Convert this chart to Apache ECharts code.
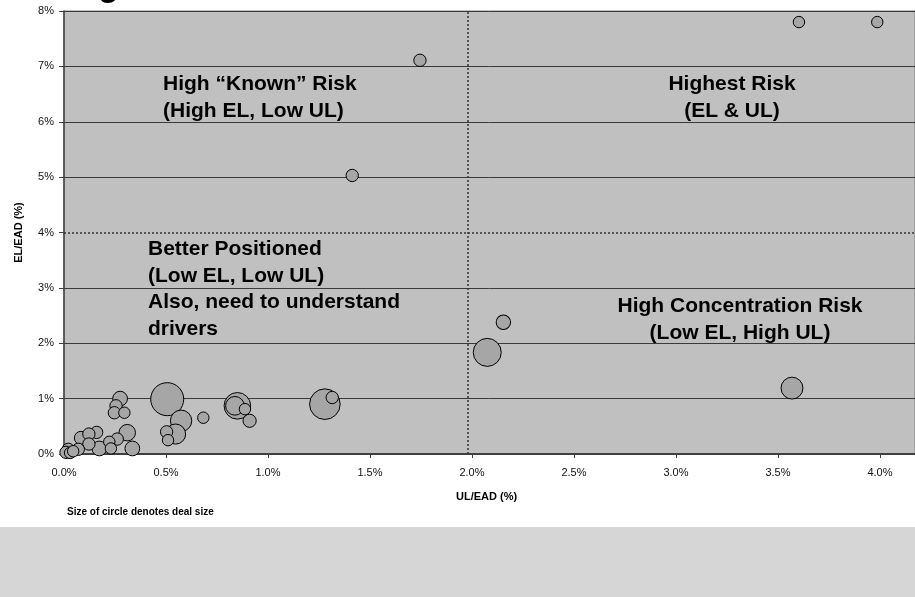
<!DOCTYPE html>
<html>
<head>
<meta charset="utf-8">
<script src="https://cdn.jsdelivr.net/npm/echarts@6/dist/echarts.min.js"></script>
<style>
  html, body { margin: 0; padding: 0; background: #ffffff; }
  #chart { width: 915px; height: 597px; }
</style>
</head>
<body>
<div id="chart"></div>
<script>
// Deal-level risk: UL/EAD (%) against EL/EAD (%), bubble area = deal size
const ulEad = [0.275, 0.255, 0.247, 0.296, 0.506, 0.574, 0.683, 0.547, 0.503, 0.51,
               0.85, 0.838, 0.887, 0.91, 0.31, 0.261, 0.222, 0.23, 0.335, 0.16,
               0.122, 0.122, 0.083, 0.173, 0.07, 0.021, 0.01, 0.03, 0.045,
               1.279, 1.315, 1.413, 1.745, 2.154, 2.075, 3.569, 3.603, 3.987];
const elEad = [1.00, 0.87, 0.745, 0.745, 0.99, 0.60, 0.655, 0.36, 0.40, 0.25,
               0.87, 0.87, 0.81, 0.60, 0.385, 0.27, 0.22, 0.10, 0.10, 0.39,
               0.36, 0.18, 0.29, 0.10, 0.085, 0.085, 0.03, 0.02, 0.05,
               0.90, 1.02, 5.03, 7.11, 2.38, 1.835, 1.19, 7.80, 7.80];
const dealSize = [20, 14, 14, 12, 100, 42, 12, 37, 14, 12,
                  65, 32, 12, 16, 25, 14, 12, 12, 20, 14,
                  14, 14, 16, 20, 14, 14, 14, 12, 12,
                  86, 14, 14, 14, 19, 72, 44, 12, 12];

const xTicks = [0, 0.5, 1.0, 1.5, 2.0, 2.5, 3.0, 3.5, 4.0];
const yTicks = [0, 1, 2, 3, 4, 5, 6, 7, 8];

// Quadrant thresholds
const ulThreshold = 1.98;
const elThreshold = 4;

// Larger deals drawn first so smaller ones stay visible on top
const bubbles = ulEad.map((x, i) => [x, elEad[i], dealSize[i]])
  .sort((a, b) => b[2] - a[2]);

const font = 'Arial, "Liberation Sans", sans-serif';
const gridLine = '#3a3a3a';
// the 4% split line is replaced by a dotted threshold line
const splitColors = yTicks.map(v => v === elThreshold ? 'rgba(0,0,0,0)' : gridLine);

const chart = echarts.init(document.getElementById('chart'), null, { renderer: 'canvas' });

const quadText = (x, y, lines, align) => ({
  type: 'text',
  left: align === 'center' ? undefined : x,
  x: align === 'center' ? x : undefined,
  y: y,
  silent: true,
  z: 10,
  style: {
    text: lines.join('\n'),
    font: 'bold 21px ' + font,
    fill: '#000',
    textAlign: align,
    textVerticalAlign: 'top',
    lineHeight: 26.5
  }
});

chart.setOption({
  animation: false,
  backgroundColor: '#ffffff',
  grid: {
    left: 64, top: 11, right: 0, bottom: 143,
    show: true,
    backgroundColor: '#c0c0c0',
    borderColor: '#808080',
    borderWidth: 1
  },
  xAxis: {
    type: 'value',
    // the plot runs on past the 4.0% tick to the right edge
    min: 0, max: 4.172, interval: 0.5,
    axisLine: { show: true, onZero: false, lineStyle: { color: '#404040', width: 2 } },
    axisTick: { show: true, length: 4, lineStyle: { color: '#404040' } },
    splitLine: { show: false },
    axisLabel: {
      margin: 13,
      color: '#111',
      fontFamily: font,
      fontSize: 11,
      showMaxLabel: false,
      formatter: v => xTicks.includes(v) ? v.toFixed(1) + '%' : ''
    }
  },
  yAxis: {
    type: 'value',
    min: 0, max: 8, interval: 1,
    name: 'EL/EAD (%)',
    nameLocation: 'middle',
    nameGap: 40,
    nameTextStyle: { fontFamily: font, fontSize: 11, fontWeight: 'bold', color: '#000' },
    axisLine: { show: true, onZero: false, lineStyle: { color: '#404040', width: 1.5 } },
    axisTick: { show: true, length: 5, lineStyle: { color: '#404040' } },
    splitLine: { show: true, lineStyle: { color: splitColors, width: 1 } },
    axisLabel: {
      margin: 10,
      color: '#111',
      fontFamily: font,
      fontSize: 11,
      formatter: v => yTicks.includes(v) ? v + '%' : ''
    }
  },
  series: [{
    type: 'scatter',
    data: bubbles,
    symbol: 'circle',
    symbolSize: d => 3.3 * Math.sqrt(d[2]),
    itemStyle: { color: '#a6a6a6', borderColor: '#000', borderWidth: 1, opacity: 1 },
    emphasis: { disabled: true },
    silent: true,
    z: 3,
    markLine: {
      silent: true,
      symbol: 'none',
      label: { show: false },
      lineStyle: { color: '#333', type: [2, 2], width: 1.5 },
      data: [{ yAxis: elThreshold }, { xAxis: ulThreshold }]
    }
  }],
  graphic: [
    { type: 'rect', shape: { x: 0, y: 527, width: 915, height: 70 },
      style: { fill: '#d6d6d6' }, silent: true },
    // tail of the page heading, running off the top edge
    { type: 'text', x: 98, y: -30, silent: true,
      style: { text: 'g', font: 'bold 34px ' + font, fill: '#000', textVerticalAlign: 'top' } },
    quadText(163, 71, ['High \u201cKnown\u201d Risk', '(High EL, Low UL)'], 'left'),
    quadText(732, 71, ['Highest Risk', '(EL & UL)'], 'center'),
    quadText(148, 236, ['Better Positioned', '(Low EL, Low UL)', 'Also, need to understand', 'drivers'], 'left'),
    quadText(740, 293, ['High Concentration Risk', '(Low EL, High UL)'], 'center'),
    { type: 'text', left: 456, top: 491, silent: true,
      style: { text: 'UL/EAD (%)', font: 'bold 11px ' + font, fill: '#000' } },
    { type: 'text', left: 67, top: 507, silent: true,
      style: { text: 'Size of circle denotes deal size', font: 'bold 10px ' + font, fill: '#000' } }
  ]
});
</script>
</body>
</html>
